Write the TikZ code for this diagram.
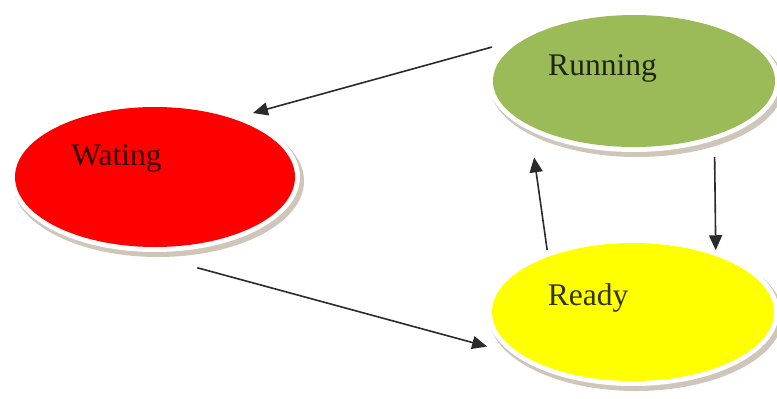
\documentclass[tikz,border=0pt]{standalone}
\usepackage{fontspec}
\setmainfont{Liberation Serif}
\usetikzlibrary{arrows.meta,shapes.geometric,calc}

\definecolor{stateRed}{HTML}{FF0000}
\definecolor{stateGreen}{HTML}{9BBB59}
\definecolor{stateYellow}{HTML}{FFFF00}
\definecolor{rimShade}{HTML}{CFC5B9}
\definecolor{edgeGray}{HTML}{2A2A2A}

\tikzset{
  state/.style={ellipse, inner sep=0pt, outer sep=0pt, draw=none},
  statetext/.style={font=\fontsize{31.5}{36}\selectfont, text=black, text opacity=0.8},
  transition/.style={draw=edgeGray, line width=1.6pt,
    -{Triangle[length=15pt,width=13pt]}},
}

% draws the soft shadow and white rim behind a state ellipse
\newcommand{\staterim}[3]{%
  \fill[rimShade] ($(#1)+(3,4)$) ellipse [x radius=#2pt+6pt, y radius=#3pt+6pt];
  \fill[white] (#1) ellipse [x radius=#2pt+5pt, y radius=#3pt+5pt];
}

\begin{document}
\begin{tikzpicture}[x=1pt, y=-1pt]
  \useasboundingbox (0,0) rectangle (777,399);

  \coordinate (cwait) at (155,177);
  \coordinate (crun)  at (634,81);
  \coordinate (cready) at (633,312);

  \staterim{cwait}{140}{70}
  \staterim{crun}{141}{66}
  \staterim{cready}{141}{69}

  \node[state, fill=stateRed, minimum width=280pt, minimum height=140pt,
        label={[statetext, xshift=-38.5pt, yshift=18.5pt]center:Wating}]
        (wait) at (cwait) {};
  \node[state, fill=stateGreen, minimum width=282pt, minimum height=132pt,
        label={[statetext, xshift=-31.5pt, yshift=12.5pt]center:Running}]
        (run) at (crun) {};
  \node[state, fill=stateYellow, minimum width=282pt, minimum height=138pt,
        label={[statetext, xshift=-45pt, yshift=14.5pt]center:Ready}]
        (ready) at (cready) {};

  % transitions between the states
  \draw[transition, shorten <=39pt, shorten >=21.3pt] (run.157.9) -- (wait.37);
  \draw[transition, shorten <=100pt, shorten >=40.8pt] (wait.230.4) -- (ready.203.4);
  \draw[transition, shorten <=7pt, shorten >=32.3pt] (ready.147.1) -- (run.203.6);
  \draw[transition, shorten <=22pt, shorten >=5.9pt] (run.326.3) -- (ready.34.4);
\end{tikzpicture}
\end{document}
